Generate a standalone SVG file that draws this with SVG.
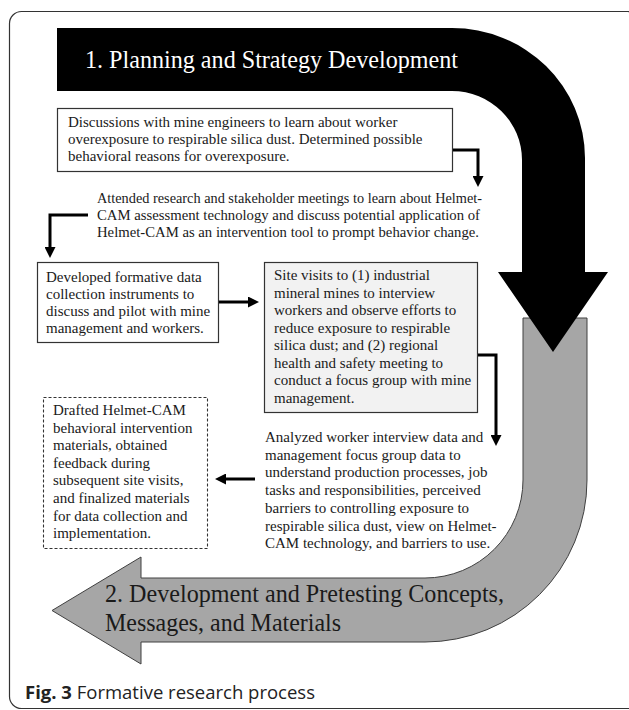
<svg xmlns="http://www.w3.org/2000/svg" width="629" height="710" viewBox="0 0 629 710">
<defs>
<style>
.t{font-family:"Liberation Serif","Times New Roman",serif;font-size:15px;fill:#1a1a1a}
.box{fill:#fff;stroke:#333;stroke-width:1.2}
.conn{fill:none;stroke:#000;stroke-width:3}
.ttl{font-family:"Liberation Serif","Times New Roman",serif;font-size:25px}
</style>
<marker id="ah" viewBox="0 0 11 11" markerWidth="11" markerHeight="11" refX="1" refY="5.5" orient="auto" markerUnits="userSpaceOnUse">
<path d="M0,0 L11,5.5 L0,11 z" fill="#000"/>
</marker>
</defs>
<rect width="629" height="710" fill="#fff"/>
<rect x="9.5" y="11.5" width="630" height="697" rx="12" fill="none" stroke="#333" stroke-width="1.2"/>

<g id="phase2">
<path d="M523,318 H587 V480 A162,162 0 0 1 425,642 H141 V664 L52,610.5 L141,557 V578 H425 A98,98 0 0 0 523,480 Z" fill="#a6a6a6" stroke="#404040" stroke-width="1"/>
<text class="ttl" fill="#1a1a1a" x="105" y="602" textLength="399" lengthAdjust="spacingAndGlyphs">2. Development and Pretesting Concepts,</text>
<text class="ttl" fill="#1a1a1a" x="105" y="631" textLength="236" lengthAdjust="spacingAndGlyphs">Messages, and Materials</text>
</g>

<g id="phase1">
<path d="M57,28 H452 A133,130 0 0 1 585,158 V272 H608 L553,352 L498,272 H522 V160 A70,69 0 0 0 452,91 H57 Z" fill="#000"/>
<text class="ttl" fill="#fff" x="85" y="68" textLength="373" lengthAdjust="spacingAndGlyphs">1. Planning and Strategy Development</text>
</g>

<g id="discussions">
<rect class="box" x="57.5" y="108.5" width="395" height="63"/>
<text class="t" x="68" y="127">Discussions with mine engineers to learn about worker</text>
<text class="t" x="68" y="144">overexposure to respirable silica dust. Determined possible</text>
<text class="t" x="68" y="161">behavioral reasons for overexposure.</text>
</g>

<g id="attended">
<text class="t" x="97" y="203" textLength="385" lengthAdjust="spacingAndGlyphs">Attended research and stakeholder meetings to learn about Helmet-</text>
<text class="t" x="97" y="220" textLength="383" lengthAdjust="spacingAndGlyphs">CAM assessment technology and discuss potential application of</text>
<text class="t" x="97" y="237" textLength="382" lengthAdjust="spacingAndGlyphs">Helmet-CAM as an intervention tool to prompt behavior change.</text>
</g>

<g id="developed">
<rect class="box" x="37.5" y="262.5" width="181" height="80"/>
<text class="t" x="46" y="282">Developed formative data</text>
<text class="t" x="46" y="299">collection instruments to</text>
<text class="t" x="46" y="316">discuss and pilot with mine</text>
<text class="t" x="46" y="333">management and workers.</text>
</g>

<g id="sitevisits">
<rect class="box" x="264.5" y="262.5" width="213" height="150" style="fill:#f2f2f2"/>
<text class="t" x="274" y="280">Site visits to (1) industrial</text>
<text class="t" x="274" y="297.5">mineral mines to interview</text>
<text class="t" x="274" y="315">workers and observe efforts to</text>
<text class="t" x="274" y="332.5">reduce exposure to respirable</text>
<text class="t" x="274" y="350">silica dust; and (2) regional</text>
<text class="t" x="274" y="367.5">health and safety meeting to</text>
<text class="t" x="274" y="385">conduct a focus group with mine</text>
<text class="t" x="274" y="402.5">management.</text>
</g>

<g id="analyzed" xml:space="preserve">
<text class="t" x="265" y="442">Analyzed worker interview data and</text>
<text class="t" x="265" y="459.7">management focus group data to</text>
<text class="t" x="265" y="477.4">understand production processes, job</text>
<text class="t" x="265" y="495.1">tasks and responsibilities,  perceived</text>
<text class="t" x="265" y="512.8">barriers to controlling  exposure to</text>
<text class="t" x="265" y="530.5">respirable silica dust, view on Helmet-</text>
<text class="t" x="265" y="548.2">CAM technology,  and barriers to use.</text>
</g>

<g id="drafted">
<rect x="43.5" y="397.5" width="164" height="151" fill="#fff" stroke="#333" stroke-width="1.1" stroke-dasharray="3,2"/>
<text class="t" x="53" y="415">Drafted Helmet-CAM</text>
<text class="t" x="53" y="432.6">behavioral intervention</text>
<text class="t" x="53" y="450.2">materials, obtained</text>
<text class="t" x="53" y="467.8">feedback during</text>
<text class="t" x="53" y="485.4">subsequent site visits,</text>
<text class="t" x="53" y="503">and finalized materials</text>
<text class="t" x="53" y="520.6">for data collection and</text>
<text class="t" x="53" y="538.2">implementation.</text>
</g>

<g id="connectors">
<path class="conn" d="M453,150 H478 V177" marker-end="url(#ah)"/>
<path class="conn" d="M88,215 H50 V248" marker-end="url(#ah)"/>
<path class="conn" d="M219,302 H249" marker-end="url(#ah)"/>
<path class="conn" d="M478,355 H496 V436" marker-end="url(#ah)"/>
<path class="conn" d="M255,479 H225" marker-end="url(#ah)"/>
</g>

<text x="25" y="699" style="font-family:'Open Sans','Noto Sans',sans-serif;font-size:18.5px;fill:#222"><tspan font-weight="bold">Fig. 3</tspan> Formative research process</text>
</svg>
